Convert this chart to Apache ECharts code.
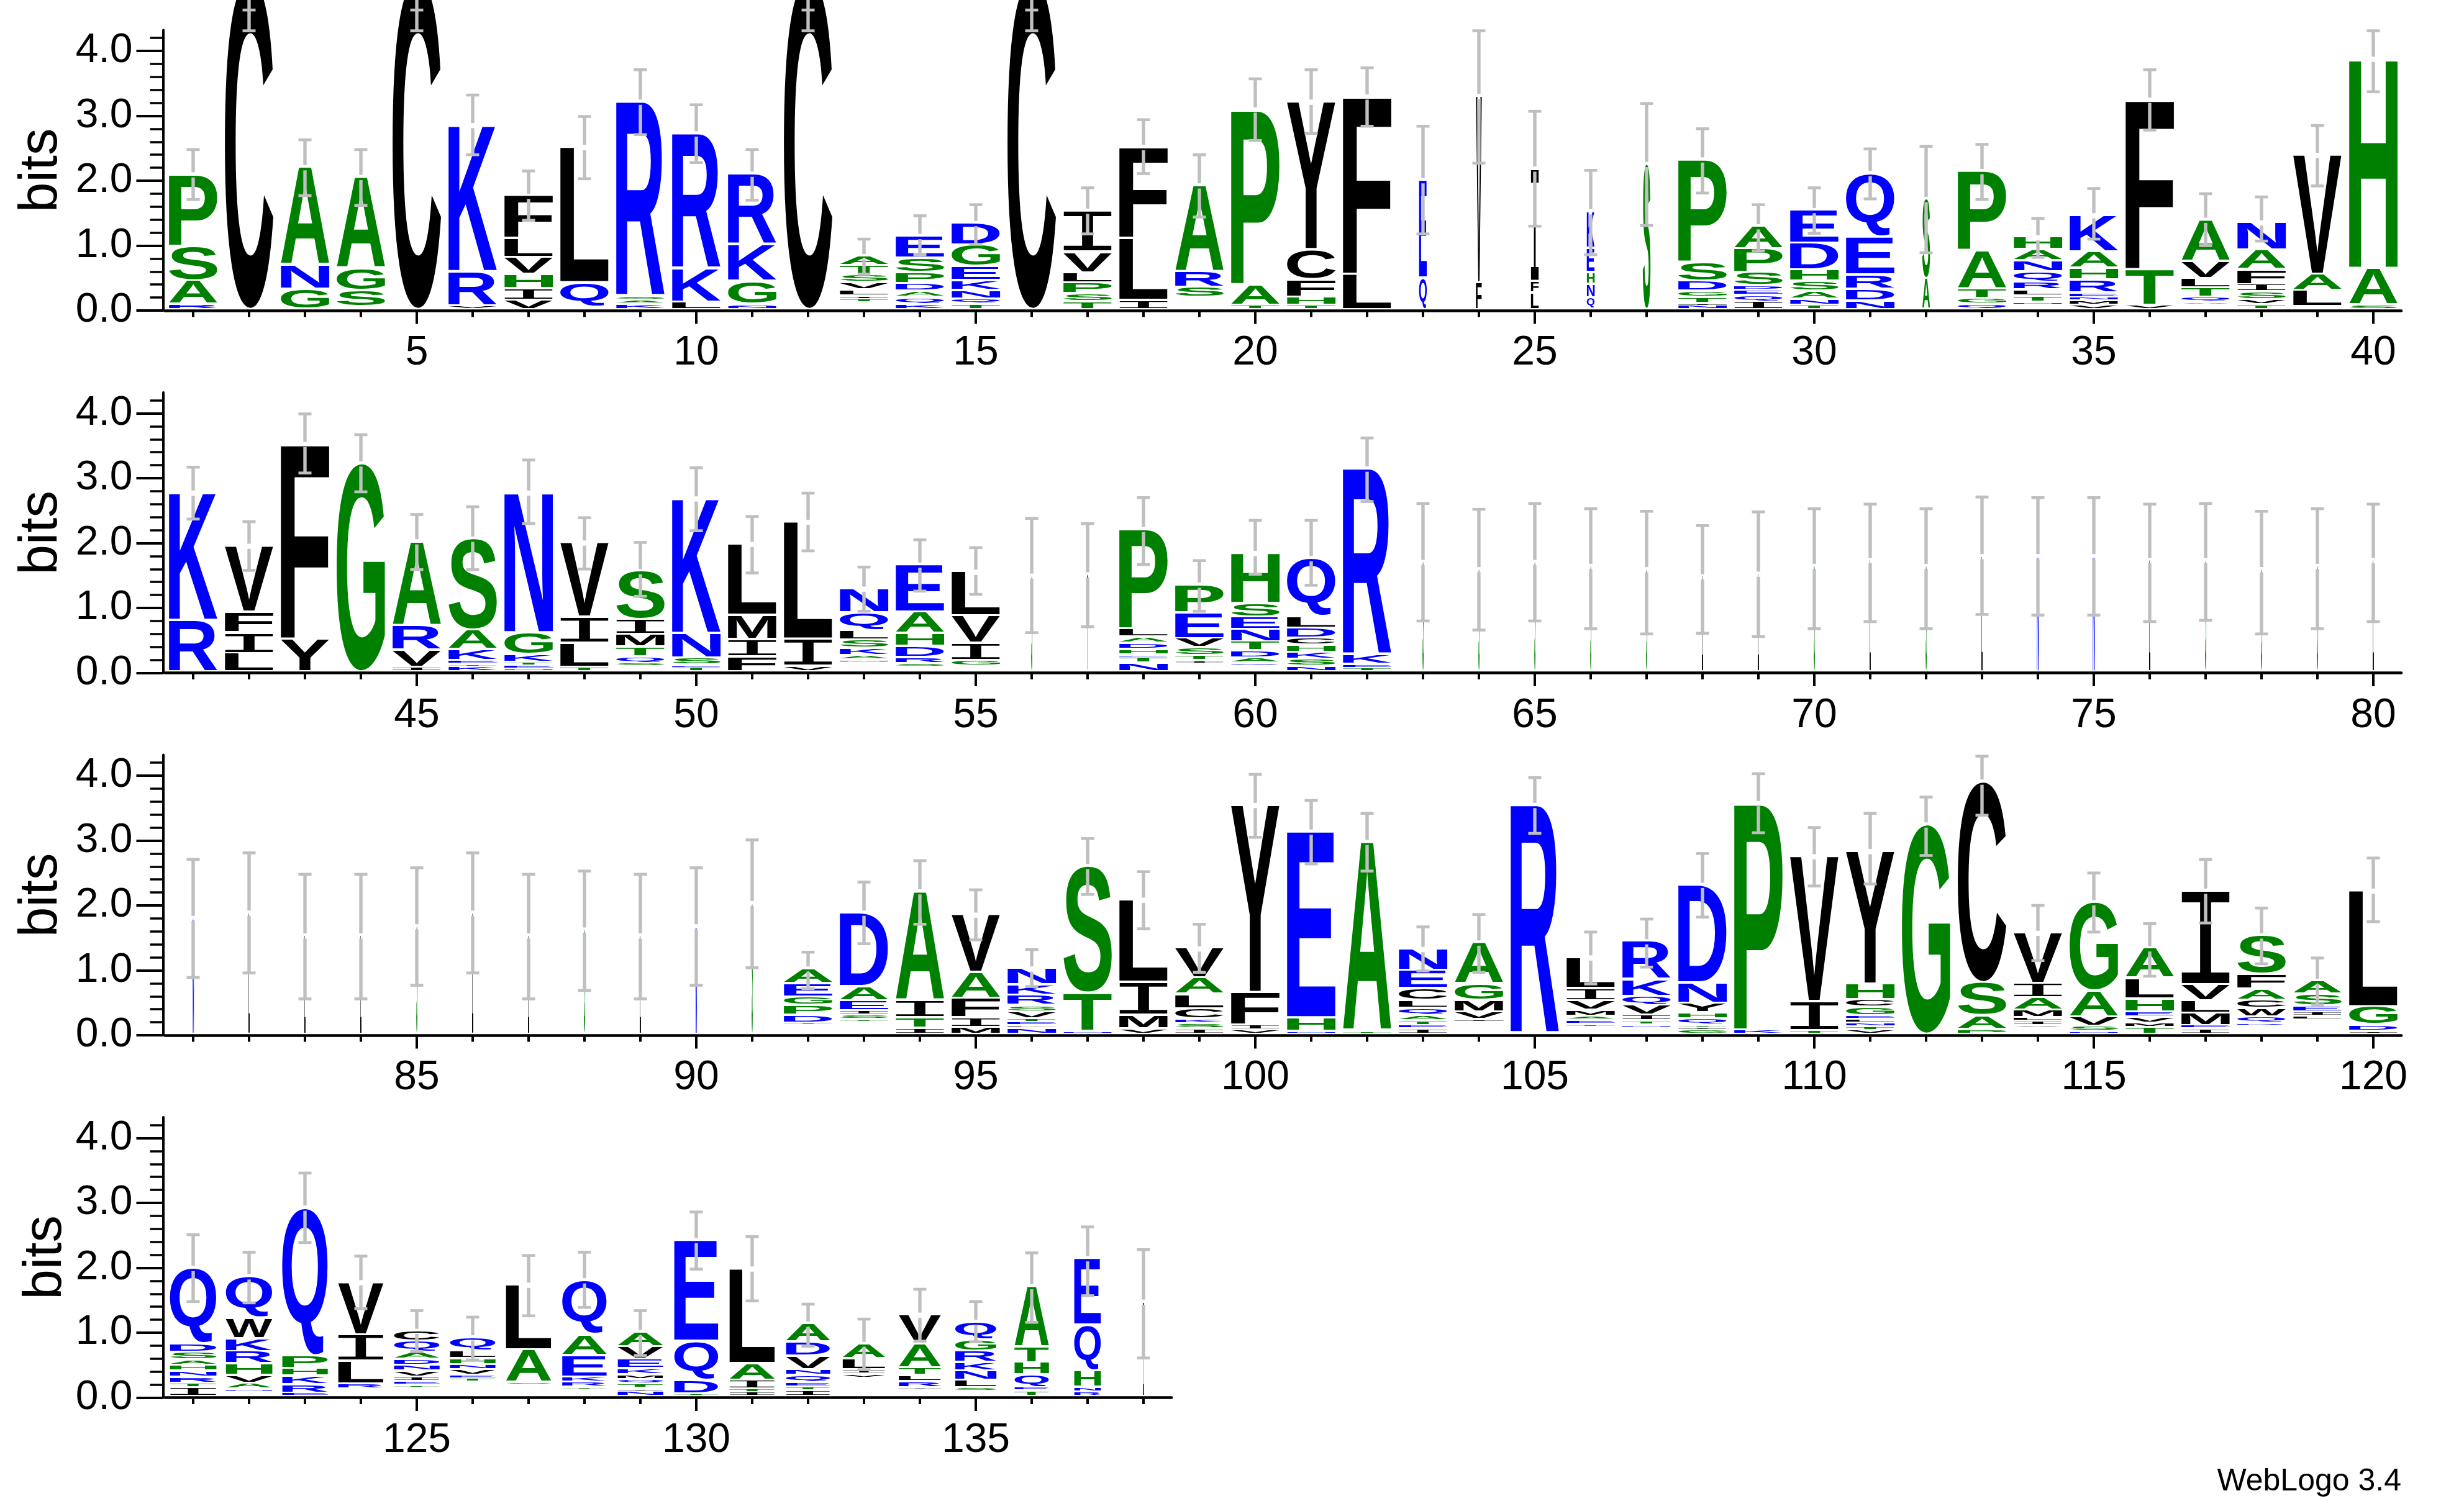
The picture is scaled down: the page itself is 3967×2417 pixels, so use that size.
<!DOCTYPE html>
<html><head><meta charset="utf-8">
<style>html,body{margin:0;padding:0;background:#fff}#c{width:3967px;height:2417px}</style>
<script src="https://cdn.jsdelivr.net/npm/echarts@6/dist/echarts.min.js"></script>
</head><body><div id="c"></div>
<script>
// Each stack is listed top-down; "_" is an unprinted residue of the stack.
const row1Letters = ["PSAR","C","ANG","AGS_","C","KRV","FLVHIV","LQ_","RSAK","RKL","RKGSN","C","ATSVLIT_","ESPDAQK","DGEKNQT","C","IVLPST","FLI","ARS_","PAT","YCFHT","FL","EQ","VF","IFL","KEHNQ","S","PSDGTIN","APSDEQI","EDHSANT","QERDN","SA","PATGQ","HANQRLTN_","KAHRENMV","FTV","AVLTQA_","NAFISVT","VAL_","HAS"];
const row1Heights = [[1.11,.53,.36,.05],[5.05],[1.51,.37,.28],[1.41,.34,.25,.01],[5.05],[2.26,.53,.02],[.66,.29,.26,.22,.18,.11],[2.09,.37,.01],[3.01,.05,.06,.05],[2.09,.51,.08],[1.10,.56,.35,.03,.02],[5.05],[.15,.14,.12,.11,.10,.05,.05,.07],[.34,.22,.17,.12,.10,.10,.05],[.34,.33,.22,.15,.13,.08,.05],[5.05],[.64,.32,.15,.17,.12,.09],[1.41,.95,.11],[1.33,.24,.16,.15],[2.70,.32,.03],[2.28,.46,.27,.13,.03],[2.74,.51],[1.51,.45],[2.88,.38],[1.74,.18,.22],[.57,.37,.18,.21,.15],[2.21],[1.59,.29,.15,.10,.09,.03,.03],[.35,.36,.21,.07,.08,.09,.09],[.51,.41,.18,.15,.12,.10,.03],[.98,.59,.22,.18,.10],[1.23,.44],[1.23,.59,.14,.09,.05],[.19,.17,.17,.16,.12,.10,.09,.03,.05],[.57,.25,.18,.20,.07,.05,.07,.03],[2.62,.55,.03],[.64,.27,.14,.14,.08,.03,.05],[.43,.30,.23,.11,.12,.08,.04],[1.84,.25,.25,.01],[3.23,.56,.04]];
const row1Low = [1.71,4.31,1.77,1.62,4.31,2.40,1.39,2.03,2.71,2.28,1.70,4.31,.56,.86,1.02,4.31,1.18,2.11,1.44,2.62,2.73,2.84,1.18,2.27,1.30,.86,1.31,1.81,.92,1.19,1.72,.89,1.71,.82,1.10,2.78,1.00,1.07,1.92,3.37];
const row1High = [2.48,5.4,2.63,2.48,5.4,3.32,2.15,2.99,3.71,3.17,2.48,5.4,1.10,1.46,1.63,5.4,1.89,2.94,2.40,3.57,3.71,3.74,2.84,4.31,3.07,2.16,3.19,2.80,1.63,1.89,2.49,2.53,2.56,1.42,1.88,3.71,1.80,1.75,2.85,4.31];
const row1Widths = [1,1,1,1,1,1,1,1,1,1,1,1,1,1,1,1,1,1,1,1,1,1,.16,.12,.16,.16,.16,1,1,1,1,.16,1,1,1,1,1,1,1,1];

const row2Letters = ["KR","VFIL","FY","G","ARVI","SAKETK","NGKTEN","VILT","SIMTQS_","KNSET","LMIF","LIV","NQLSKAM_","EAHDRS_","LVIG_","S","T","PLADHETN","PEVSTI_","HSENTDAQ_","QLDCHKSN","RKET","S","S","S","S","S","L","L","S","L","S","L","N","N","L","S","S","S","L"];
const row2Heights = [[1.97,.76],[1.02,.32,.32,.25],[3.01,.47],[3.18],[1.30,.38,.26,.04],[1.41,.30,.17,.05,.04,.05],[2.16,.34,.12,.05,.05,.01],[1.15,.40,.37,.04],[.75,.23,.19,.15,.10,.05,.05],[2.08,.38,.11,.04,.03],[1.10,.37,.27,.2],[1.81,.42,.05],[.37,.28,.14,.13,.11,.07,.04,.11],[.73,.33,.20,.17,.10,.05,.04],[.68,.42,.27,.09,.05],[1.45],[1.47],[1.54,.13,.09,.10,.08,.04,.09,.10],[.43,.40,.14,.12,.08,.05,.09],[.78,.21,.19,.19,.14,.11,.08,.05,.05],[.90,.18,.15,.11,.11,.11,.11,.05],[2.88,.14,.06,.02],[1.66],[1.55],[1.66],[1.60],[1.55],[1.44],[1.48],[1.60],[1.69],[1.60],[1.75],[1.75],[1.75],[1.69],[1.69],[1.55],[1.60],[1.69]];
const row2Low = [2.37,1.58,3.08,2.79,1.59,1.59,2.30,1.60,1.18,2.19,1.54,1.88,.95,1.26,1.21,.62,.71,1.67,.95,1.52,1.35,2.64,.80,.66,.80,.68,.60,.61,.56,.68,.79,.68,.90,.89,.89,.79,.81,.60,.68,.79];
const row2High = [3.17,2.33,3.99,3.67,2.44,2.56,3.28,2.39,2.01,3.16,2.41,2.77,1.63,2.05,1.93,2.38,2.30,2.70,1.73,2.35,2.35,3.62,2.61,2.52,2.61,2.53,2.49,2.27,2.48,2.53,2.60,2.53,2.71,2.70,2.70,2.60,2.61,2.49,2.53,2.60];
const row2Widths = [1,1,1,1,1,1,1,1,1,1,1,1,1,1,1,.025,.025,1,1,1,1,1,.025,.025,.025,.025,.025,.025,.025,.025,.025,.025,.025,.04,.04,.025,.025,.025,.025,.025];

const row3Letters = ["N","L","L","L","S","L","L","S","L","N","S","AEGPDT_","DAEIST_","AITI","VAFIM","NKRSVTELN","STN","LIMV","VALCKSI","YFIV","EHN","AT","NECLQATEI","AGMVI_","R","LIVMAET_","RKQVITN_","DNYHQTIG","PK","VIT","YHCGELNTV","G","CSAP","VIAMLIV_","GAVSN","ALHEVMT","IVLMEI","SFACWQR_","ASEIL_","LGDI"];
const row3Heights = [[1.76],[1.84],[1.49],[1.49],[1.63],[1.84],[1.49],[1.58],[1.49],[1.63],[1.99],[.23,.21,.13,.15,.12,.02,.12],[1.14,.22,.15,.07,.07,.03,.16],[1.68,.27,.16,.06],[.89,.40,.30,.15,.07],[.25,.16,.16,.10,.11,.05,.05,.04,.06],[1.96,.59,.01],[1.27,.51,.21,.05],[.46,.25,.22,.16,.07,.08,.05],[2.89,.50,.08,.03],[2.87,.21,.01],[2.92,.01],[.33,.28,.18,.12,.12,.08,.07,.05,.05],[.64,.25,.18,.12,.02,.17],[3.50],[.48,.19,.14,.10,.06,.06,.03,.09],[.59,.26,.14,.15,.09,.06,.03,.08],[1.51,.32,.14,.10,.09,.04,.04,.03],[3.50,.03],[2.24,.45,.02],[2.05,.24,.12,.13,.06,.05,.06,.05,.03],[3.20],[3.10,.51,.21,.04],[.78,.22,.19,.12,.05,.07,.03,.07],[1.37,.40,.14,.08,.01],[.46,.32,.20,.08,.09,.07,.07],[1.45,.25,.19,.19,.05,.05],[.60,.23,.17,.13,.13,.09,.04,.10],[.21,.18,.09,.07,.06,.18],[1.79,.28,.10,.01]];
const row3Low = [.89,.96,.56,.56,.77,.96,.56,.69,.56,.77,1.04,.72,1.41,1.71,1.47,.75,2.17,1.64,.97,3.05,2.64,2.53,.99,.97,3.11,.79,1.05,1.82,3.12,2.30,2.33,2.77,3.39,1.15,1.59,.91,1.73,1.10,.47,1.75];
const row3High = [2.71,2.81,2.48,2.48,2.58,2.81,2.48,2.53,2.48,2.58,3.01,1.28,2.36,2.69,2.24,1.32,3.03,2.52,1.71,4.02,3.62,3.42,1.67,1.86,3.97,1.59,1.79,2.80,4.03,3.20,3.42,3.67,4.30,2.00,2.50,1.72,2.71,1.96,1.19,2.73];
const row3Widths = [.03,.025,.025,.025,.025,.025,.025,.025,.025,.03,.025,1,1,1,1,1,1,1,1,1,1,1,1,1,1,1,1,1,1,1,1,1,1,1,1,1,1,1,1,1];

const row4Letters = ["QDSAHNRTI","QWKRHVAN_","QPHKRE","VILR_","CQADNVIET_","QLHNVET_","LAS_","QAEKRT_","AVEKMQTIN","EQDT","LAITI","ADVNQETI","ALIV_","VATLRI_","QGRKNLS_","ATHQET","EQHNR","I"];
const row4Heights = [[1.17,.13,.12,.08,.09,.09,.10,.07,.10],[.64,.32,.20,.19,.18,.12,.09,.04,.04],[2.28,.20,.12,.13,.13,.02],[.81,.41,.35,.08,.08],[.16,.17,.11,.09,.09,.09,.07,.06,.03,.11],[.21,.12,.09,.08,.09,.05,.05,.19],[1.00,.50,.04,.15],[.84,.32,.33,.08,.08,.03,.08],[.23,.19,.14,.10,.07,.07,.07,.04,.05],[1.56,.60,.21,.01],[1.46,.26,.14,.05,.03],[.28,.22,.21,.09,.11,.07,.05,.06],[.23,.17,.07,.06,.25],[.45,.37,.12,.09,.10,.02,.08],[.28,.17,.18,.13,.14,.12,.05,.05],[.94,.24,.19,.19,.06,.05],[1.03,.71,.25,.07,.04],[1.43]];
const row4Low = [1.48,1.46,2.39,1.37,.71,.58,1.26,1.39,.65,1.98,1.49,.79,.43,.87,.86,1.16,1.57,.61];
const row4High = [2.51,2.24,3.46,2.18,1.34,1.24,2.19,2.24,1.34,2.86,2.48,1.44,1.21,1.67,1.48,2.23,2.63,2.28];
const row4Widths = [.96,.96,.94,.94,.94,.94,.94,.92,.94,.91,.94,.91,.88,.87,.85,.71,.55,.02];

const conservedCaps = {2:4.63,5:4.63,12:4.63,16:4.63};
const yTickLabels = [0,1,2,3,4];
const yMinorTicks = [.2,.4,.6,.8,1.2,1.4,1.6,1.8,2.2,2.4,2.6,2.8,3.2,3.4,3.6,3.8,4.2];

const LEFT=266, BAND=90, BIT=104.5, YMAX=4.32, STACK_BASE=.04, GLYPH_GAP=3.6;
const baselines=[500,1083.5,1667,2250.5];
const GREEN='#008000',BLUE='#0000ff',BLACK='#000000',GREY='#bfbfbf';
const colorOf={G:GREEN,S:GREEN,T:GREEN,P:GREEN,A:GREEN,H:GREEN,R:BLUE,K:BLUE,D:BLUE,E:BLUE,N:BLUE,Q:BLUE};

const ctx=document.createElement('canvas').getContext('2d');
const metrics={};
function fontFor(ch){return (ch==='I'?'200px "Liberation Mono"':'bold 200px "Liberation Sans"');}
function glyphBox(ch){
  if(metrics[ch])return metrics[ch];
  ctx.font=fontFor(ch);ctx.textAlign='left';ctx.textBaseline='middle';
  const m=ctx.measureText(ch);
  return metrics[ch]={l:-m.actualBoundingBoxLeft,r:m.actualBoundingBoxRight,t:-m.actualBoundingBoxAscent,b:m.actualBoundingBoxDescent};
}

const rows=[
 {start:1,letters:row1Letters,heights:row1Heights,low:row1Low,high:row1High,widths:row1Widths},
 {start:41,letters:row2Letters,heights:row2Heights,low:row2Low,high:row2High,widths:row2Widths},
 {start:81,letters:row3Letters,heights:row3Heights,low:row3Low,high:row3High,widths:row3Widths},
 {start:121,letters:row4Letters,heights:row4Heights,low:row4Low,high:row4High,widths:row4Widths}
];
const grids=[],xAxes=[],yAxes=[],series=[];
const font={fontFamily:'"Liberation Sans"',fontSize:66,color:'#000'};
rows.forEach((row,r)=>{
  const cats=row.letters.map((_,i)=>String(row.start+i));
  grids.push({left:LEFT,top:baselines[r]-YMAX*BIT,width:cats.length*BAND,height:YMAX*BIT,containLabel:false});
  const isFive=(i,v)=>(+v)%5===0;
  xAxes.push({gridIndex:r,type:'category',position:'bottom',data:cats,boundaryGap:true,
    axisLine:{show:true,lineStyle:{color:'#000',width:4.6}},
    axisTick:{show:true,alignWithLabel:true,interval:0,length:10.5,lineStyle:{color:'#000',width:4}},
    axisLabel:{show:false},splitLine:{show:false}});
  xAxes.push({gridIndex:r,type:'category',position:'bottom',data:cats,boundaryGap:true,
    axisLine:{show:false},
    axisTick:{show:true,alignWithLabel:true,interval:isFive,length:21.5,lineStyle:{color:'#000',width:4}},
    axisLabel:{show:true,interval:isFive,margin:36,hideOverlap:false,...font},splitLine:{show:false}});
  yAxes.push({gridIndex:r,type:'value',position:'left',offset:3.5,min:0,max:YMAX,
    name:'bits',nameLocation:'middle',nameRotate:90,nameGap:143,
    nameTextStyle:{fontFamily:'"Liberation Sans"',fontSize:87,color:'#000'},
    axisLine:{show:true,onZero:false,lineStyle:{color:'#000',width:4}},
    axisTick:{show:true,customValues:yTickLabels,length:43,lineStyle:{color:'#000',width:4}},
    axisLabel:{show:true,customValues:yTickLabels,margin:49,formatter:v=>v.toFixed(1),...font},splitLine:{show:false}});
  yAxes.push({gridIndex:r,type:'value',position:'left',offset:3.5,min:0,max:YMAX,
    axisLine:{show:false},
    axisTick:{show:true,customValues:yMinorTicks,length:21,lineStyle:{color:'#000',width:3.5}},
    axisLabel:{show:false},splitLine:{show:false}});

  const glyphs=[],glyphData=[],errData=[];
  row.letters.forEach((word,i)=>{
    const hs=row.heights[i];
    let total=hs.reduce((a,b)=>a+b,0);
    let top=STACK_BASE+total, cur=top;
    [...word].forEach((ch,k)=>{
      const h=hs[k]; const y1=cur, y0=cur-h; cur=y0;
      if(ch==='_')return;
      glyphs.push({ch,last:k===word.length-1,w:row.widths[i]});
      glyphData.push([i,y0,y1]);
    });
    const pos=row.start+i;
    errData.push([i,row.low[i],row.high[i],top,conservedCaps[pos]||-1]);
  });
  series.push({type:'custom',xAxisIndex:r*2,yAxisIndex:r*2,coordinateSystem:'cartesian2d',clip:false,silent:true,z:3,
    animation:false,encode:{x:0,y:[1,2]},data:glyphData,
    renderItem(params,api){
      const g=glyphs[params.dataIndex];
      const cx=api.coord([api.value(0),0])[0];
      const band=api.size([1,0])[0];
      const yB=api.coord([0,api.value(1)])[1], yT=api.coord([0,api.value(2)])[1];
      const cell=yB-yT;
      const pad=g.last?0:Math.min(GLYPH_GAP,cell*.6);
      const H=Math.max(cell-pad,.6);
      const W=band*.867*g.w;
      const b=glyphBox(g.ch);
      const sx=W/(b.r-b.l), sy=H/(b.b-b.t);
      const s={text:g.ch,font:fontFor(g.ch),fill:colorOf[g.ch]||BLACK,align:'left',textAlign:'left',verticalAlign:'middle',textVerticalAlign:'middle',x:0,y:0};
      return {type:'text',x:cx-W/2-b.l*sx,y:yT-b.t*sy,scaleX:sx,scaleY:sy,style:s,silent:true};
    }});
  series.push({type:'custom',xAxisIndex:r*2,yAxisIndex:r*2,coordinateSystem:'cartesian2d',clip:false,silent:true,z:4,
    animation:false,encode:{x:0,y:[1,2]},data:errData,
    renderItem(params,api){
      const cx=api.coord([api.value(0),0])[0];
      const yL=api.coord([0,api.value(1)])[1], yH=api.coord([0,api.value(2)])[1], yS=api.coord([0,api.value(3)])[1];
      const mid=api.value(4);
      const st={fill:GREY};
      const kids=[];
      const rect=(x,y,w,h)=>kids.push({type:'rect',shape:{x,y,width:w,height:h},style:st,silent:true});
      const gap=4.2, sw=5.4, capH=4.6;
      rect(cx-sw/2,yH,sw,Math.max(yS-gap-yH,0));
      rect(cx-sw/2,yS+gap,sw,Math.max(yL-yS-gap,0));
      rect(cx-10.5,yH-capH/2,21,capH);
      rect(cx-10.5,yL-capH/2,21,capH);
      if(mid>0){const ym=api.coord([0,mid])[1];rect(cx-10.5,ym-capH/2,21,capH);}
      return {type:'group',children:kids};
    }});
});

const chart=echarts.init(document.getElementById('c'),null,{renderer:'canvas',width:3967,height:2417});
chart.setOption({animation:false,backgroundColor:'#fff',
  title:{text:'WebLogo 3.4',right:101,top:2361,padding:0,textStyle:{fontFamily:'"Liberation Sans"',fontSize:50,fontWeight:'normal',color:'#000'}},
  grid:grids,xAxis:xAxes,yAxis:yAxes,series});
</script></body></html>
